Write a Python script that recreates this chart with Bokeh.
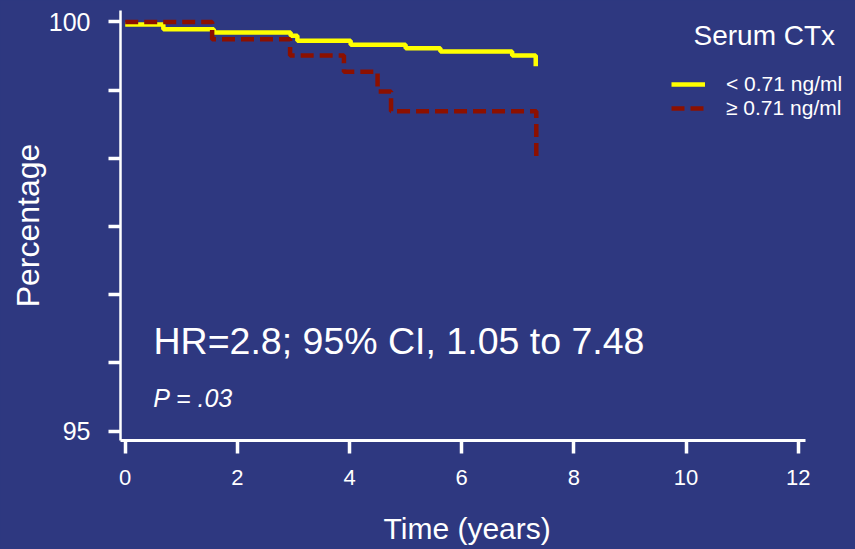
from bokeh.plotting import figure
from bokeh.models import (Range1d, FixedTicker, CustomJSTickFormatter, Legend,
                          LegendItem, Label)
from bokeh.embed import file_html
from bokeh.resources import INLINE

# ---- data ----
yellow_time = [0.0, 0.68, 1.58, 2.95, 3.07, 4.02, 5.00, 5.62, 6.90, 7.32]
yellow_pct = [99.97, 99.91, 99.87, 99.83, 99.77, 99.72, 99.68, 99.64, 99.59, 99.46]

red_time = [0.0, 1.55, 2.94, 3.90, 4.50, 4.74, 7.33]
red_pct = [100.0, 99.79, 99.59, 99.39, 99.15, 98.91, 98.35]

series_labels = ["< 0.71 ng/ml", "\u2265 0.71 ng/ml"]
legend_title = "Serum CTx"

x_ticks = [0, 2, 4, 6, 8, 10, 12]
y_ticks = [95.0, 95.833, 96.667, 97.5, 98.333, 99.167, 100.0]
y_tick_labels = {"95": "95", "100": "100"}

x_title = "Time (years)"
y_title = "Percentage"
hr_text = "HR=2.8; 95% CI, 1.05 to 7.48"
p_text = "P = .03"

BG = "#2E3880"
YELLOW = "#FFFF00"
RED = "#8C1000"
FONT = "Liberation Sans"

p = figure(width=855, height=549, output_backend="svg", toolbar_location=None,
           x_range=Range1d(-0.084, 13.022), y_range=Range1d(94.884, 100.14),
           min_border_left=120, min_border_right=0, min_border_top=10,
           min_border_bottom=109)
p.background_fill_color = BG
p.border_fill_color = BG
p.outline_line_color = None
p.grid.visible = False

r_y = p.step(yellow_time, yellow_pct, mode="after", line_color=YELLOW, line_width=4.5)
r_r = p.step(red_time, red_pct, mode="after", line_color=RED, line_width=4.5,
             line_dash="13 6")

# axes
for ax in (p.xaxis[0], p.yaxis[0]):
    ax.axis_line_color = "white"
    ax.major_tick_line_color = "white"
    ax.major_tick_line_width = 3.5
    ax.minor_tick_line_color = None
    ax.major_tick_in = 0
    ax.major_label_text_color = "white"
    ax.major_label_text_font = FONT
    ax.axis_label_text_color = "white"
    ax.axis_label_text_font = FONT
    ax.axis_label_text_font_style = "normal"

xa = p.xaxis[0]
xa.bounds = (-0.084, 12.13)
xa.ticker = FixedTicker(ticks=x_ticks)
xa.axis_line_width = 3
xa.major_tick_out = 13
xa.major_label_text_font_size = "22px"
xa.major_label_standoff = 16
# the frame runs to the right edge (so the legend is not clipped); pad the
# title on its right so that it stays centred under the drawn axis
xa.axis_label = x_title + "\u00a0" * 5
xa.axis_label_text_font_size = "30px"
xa.axis_label_standoff = 24

ya = p.yaxis[0]
ya.ticker = FixedTicker(ticks=y_ticks)
ya.formatter = CustomJSTickFormatter(args=dict(labels=y_tick_labels), code="""
    const k = String(Math.round(tick * 1000) / 1000);
    return (k in labels) ? labels[k] : "";
""")
ya.axis_line_width = 2.5
ya.major_tick_out = 12
ya.major_label_text_font_size = "25px"
ya.major_label_standoff = 18
ya.axis_label = y_title
ya.axis_label_text_font_size = "32px"
ya.axis_label_standoff = 0

# legend
legend = Legend(items=[LegendItem(label=series_labels[0], renderers=[r_y]),
                       LegendItem(label=series_labels[1], renderers=[r_r])],
                location=(551, 320), glyph_width=34, glyph_height=20,
                label_standoff=21, padding=0, spacing=0, margin=0,
                label_text_font=FONT, label_text_font_size="21px",
                label_text_color="white", background_fill_alpha=0,
                border_line_alpha=0)
p.add_layout(legend, "center")

p.add_layout(Label(x=10.134, y=99.835, text=legend_title, text_font=FONT,
                   text_font_size="28px", text_color="white",
                   text_baseline="alphabetic"))
p.add_layout(Label(x=0.505, y=96.105, text=hr_text, text_font=FONT,
                   text_font_size="37.5px", text_color="white",
                   text_baseline="alphabetic"))
p.add_layout(Label(x=0.50, y=95.40, text=p_text, text_font=FONT,
                   text_font_size="25px", text_font_style="italic",
                   text_color="white", text_baseline="alphabetic"))

html = file_html(p, INLINE)
html = html.replace("<head>", "<head><style>body{background:%s;}</style>" % BG, 1)
open("out.html", "w").write(html)
